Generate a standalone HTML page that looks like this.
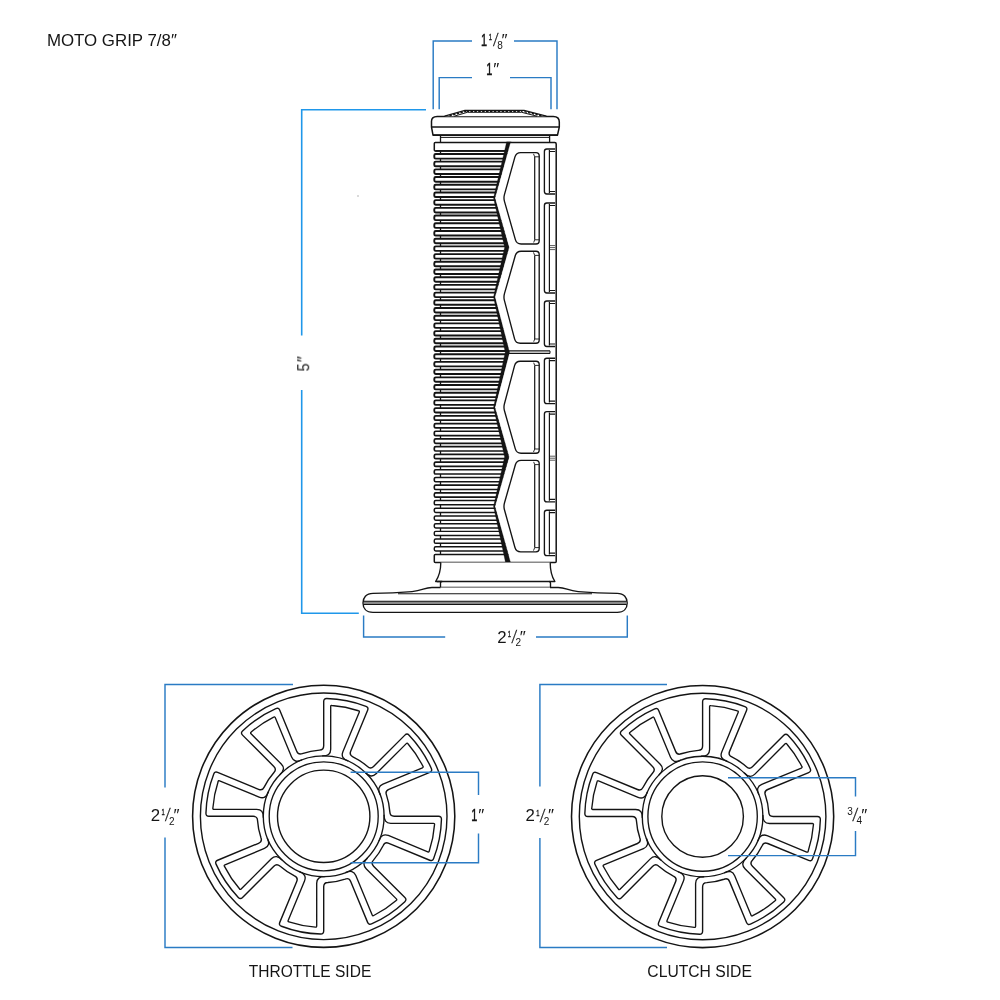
<!DOCTYPE html>
<html lang="en"><head><meta charset="utf-8"><title>MOTO GRIP 7/8</title>
<style>html,body{margin:0;padding:0;background:#fff}svg{display:block}</style></head>
<body>
<svg width="1000" height="1000" viewBox="0 0 1000 1000">
<rect width="1000" height="1000" fill="#fff"/>
<g id="grip" stroke-linecap="butt" stroke-linejoin="round">
<line x1="440.5" y1="150.9" x2="440.5" y2="554.49" stroke="#141414" stroke-width="1.3" />
<rect x="434.3" y="142.4" width="77.69999999999999" height="8.5" rx="1" fill="#fff" stroke="#141414" stroke-width="1.5"/>
<line x1="435.3" y1="150.9" x2="512" y2="150.9" stroke="#141414" stroke-width="1.8" />
<rect x="434.3" y="153.95" width="77.69999999999999" height="4.64" rx="1.4" fill="#fff" stroke="#141414" stroke-width="1.9"/>
<rect x="434.3" y="161.65" width="77.69999999999999" height="4.64" rx="1.4" fill="#fff" stroke="#141414" stroke-width="1.9"/>
<rect x="434.3" y="169.36" width="77.69999999999999" height="4.63" rx="1.4" fill="#fff" stroke="#141414" stroke-width="1.9"/>
<rect x="434.3" y="177.06" width="77.69999999999999" height="4.62" rx="1.4" fill="#fff" stroke="#141414" stroke-width="1.9"/>
<rect x="434.3" y="184.76" width="77.69999999999999" height="4.61" rx="1.4" fill="#fff" stroke="#141414" stroke-width="1.9"/>
<rect x="434.3" y="192.46" width="77.69999999999999" height="4.6" rx="1.4" fill="#fff" stroke="#141414" stroke-width="1.9"/>
<rect x="434.3" y="200.17" width="77.69999999999999" height="4.59" rx="1.4" fill="#fff" stroke="#141414" stroke-width="1.9"/>
<rect x="434.3" y="207.87" width="77.69999999999999" height="4.58" rx="1.4" fill="#fff" stroke="#141414" stroke-width="1.9"/>
<rect x="434.3" y="215.57" width="77.69999999999999" height="4.57" rx="1.4" fill="#fff" stroke="#141414" stroke-width="1.9"/>
<rect x="434.3" y="223.27" width="77.69999999999999" height="4.57" rx="1.4" fill="#fff" stroke="#141414" stroke-width="1.9"/>
<rect x="434.3" y="230.98" width="77.69999999999999" height="4.56" rx="1.4" fill="#fff" stroke="#141414" stroke-width="1.9"/>
<rect x="434.3" y="238.68" width="77.69999999999999" height="4.55" rx="1.4" fill="#fff" stroke="#141414" stroke-width="1.9"/>
<rect x="434.3" y="246.38" width="77.69999999999999" height="4.54" rx="1.4" fill="#fff" stroke="#141414" stroke-width="1.9"/>
<rect x="434.3" y="254.08" width="77.69999999999999" height="4.53" rx="1.4" fill="#fff" stroke="#141414" stroke-width="1.9"/>
<rect x="434.3" y="261.79" width="77.69999999999999" height="4.52" rx="1.4" fill="#fff" stroke="#141414" stroke-width="1.9"/>
<rect x="434.3" y="269.49" width="77.69999999999999" height="4.51" rx="1.4" fill="#fff" stroke="#141414" stroke-width="1.9"/>
<rect x="434.3" y="277.19" width="77.69999999999999" height="4.51" rx="1.4" fill="#fff" stroke="#141414" stroke-width="1.9"/>
<rect x="434.3" y="284.9" width="77.69999999999999" height="4.5" rx="1.4" fill="#fff" stroke="#141414" stroke-width="1.9"/>
<rect x="434.3" y="292.6" width="77.69999999999999" height="4.49" rx="1.4" fill="#fff" stroke="#141414" stroke-width="1.9"/>
<rect x="434.3" y="300.3" width="77.69999999999999" height="4.48" rx="1.4" fill="#fff" stroke="#141414" stroke-width="1.9"/>
<rect x="434.3" y="308" width="77.69999999999999" height="4.47" rx="1.4" fill="#fff" stroke="#141414" stroke-width="1.9"/>
<rect x="434.3" y="315.71" width="77.69999999999999" height="4.46" rx="1.4" fill="#fff" stroke="#141414" stroke-width="1.9"/>
<rect x="434.3" y="323.41" width="77.69999999999999" height="4.45" rx="1.4" fill="#fff" stroke="#141414" stroke-width="1.9"/>
<rect x="434.3" y="331.11" width="77.69999999999999" height="4.44" rx="1.4" fill="#fff" stroke="#141414" stroke-width="1.9"/>
<rect x="434.3" y="338.81" width="77.69999999999999" height="4.44" rx="1.4" fill="#fff" stroke="#141414" stroke-width="1.9"/>
<rect x="434.3" y="346.52" width="77.69999999999999" height="4.43" rx="1.4" fill="#fff" stroke="#141414" stroke-width="1.9"/>
<rect x="434.3" y="354.22" width="77.69999999999999" height="4.42" rx="1.4" fill="#fff" stroke="#141414" stroke-width="1.9"/>
<rect x="434.3" y="361.92" width="77.69999999999999" height="4.41" rx="1.4" fill="#fff" stroke="#141414" stroke-width="1.9"/>
<rect x="434.3" y="369.62" width="77.69999999999999" height="4.4" rx="1.4" fill="#fff" stroke="#141414" stroke-width="1.9"/>
<rect x="434.3" y="377.33" width="77.69999999999999" height="4.39" rx="1.4" fill="#fff" stroke="#141414" stroke-width="1.88"/>
<rect x="434.3" y="385.03" width="77.69999999999999" height="4.38" rx="1.4" fill="#fff" stroke="#141414" stroke-width="1.86"/>
<rect x="434.3" y="392.73" width="77.69999999999999" height="4.38" rx="1.4" fill="#fff" stroke="#141414" stroke-width="1.84"/>
<rect x="434.3" y="400.43" width="77.69999999999999" height="4.37" rx="1.4" fill="#fff" stroke="#141414" stroke-width="1.82"/>
<rect x="434.3" y="408.14" width="77.69999999999999" height="4.36" rx="1.4" fill="#fff" stroke="#141414" stroke-width="1.8"/>
<rect x="434.3" y="415.84" width="77.69999999999999" height="4.35" rx="1.4" fill="#fff" stroke="#141414" stroke-width="1.77"/>
<rect x="434.3" y="423.54" width="77.69999999999999" height="4.34" rx="1.4" fill="#fff" stroke="#141414" stroke-width="1.75"/>
<rect x="434.3" y="431.25" width="77.69999999999999" height="4.33" rx="1.4" fill="#fff" stroke="#141414" stroke-width="1.73"/>
<rect x="434.3" y="438.95" width="77.69999999999999" height="4.32" rx="1.4" fill="#fff" stroke="#141414" stroke-width="1.71"/>
<rect x="434.3" y="446.65" width="77.69999999999999" height="4.32" rx="1.4" fill="#fff" stroke="#141414" stroke-width="1.69"/>
<rect x="434.3" y="454.35" width="77.69999999999999" height="4.31" rx="1.4" fill="#fff" stroke="#141414" stroke-width="1.67"/>
<rect x="434.3" y="462.06" width="77.69999999999999" height="4.3" rx="1.4" fill="#fff" stroke="#141414" stroke-width="1.65"/>
<rect x="434.3" y="469.76" width="77.69999999999999" height="4.29" rx="1.4" fill="#fff" stroke="#141414" stroke-width="1.63"/>
<rect x="434.3" y="477.46" width="77.69999999999999" height="4.28" rx="1.4" fill="#fff" stroke="#141414" stroke-width="1.61"/>
<rect x="434.3" y="485.16" width="77.69999999999999" height="4.27" rx="1.4" fill="#fff" stroke="#141414" stroke-width="1.59"/>
<rect x="434.3" y="492.87" width="77.69999999999999" height="4.26" rx="1.4" fill="#fff" stroke="#141414" stroke-width="1.57"/>
<rect x="434.3" y="500.57" width="77.69999999999999" height="4.25" rx="1.4" fill="#fff" stroke="#141414" stroke-width="1.55"/>
<rect x="434.3" y="508.27" width="77.69999999999999" height="4.25" rx="1.4" fill="#fff" stroke="#141414" stroke-width="1.52"/>
<rect x="434.3" y="515.97" width="77.69999999999999" height="4.24" rx="1.4" fill="#fff" stroke="#141414" stroke-width="1.5"/>
<rect x="434.3" y="523.68" width="77.69999999999999" height="4.23" rx="1.4" fill="#fff" stroke="#141414" stroke-width="1.48"/>
<rect x="434.3" y="531.38" width="77.69999999999999" height="4.22" rx="1.4" fill="#fff" stroke="#141414" stroke-width="1.46"/>
<rect x="434.3" y="539.08" width="77.69999999999999" height="4.21" rx="1.4" fill="#fff" stroke="#141414" stroke-width="1.44"/>
<rect x="434.3" y="546.79" width="77.69999999999999" height="4.2" rx="1.4" fill="#fff" stroke="#141414" stroke-width="1.42"/>
<rect x="434.3" y="554.49" width="77.69999999999999" height="7.91" rx="1" fill="#fff" stroke="#141414" stroke-width="1.5"/>
<polygon points="510.4,142.4 494.9,198 509,247.5 494.9,297 509.5,352.2 494.9,407.4 509,456.9 494.9,506.4 510.5,562.4 556.2,562.4 556.2,142.4" fill="#fff" stroke="none"/>
<polygon points="506.5,142.4 493.5,198 504.6,247.5 493.5,297 505.2,352.2 493.5,407.4 504.6,456.9 493.5,506.4 505.5,562.4 510.5,562.4 494.9,506.4 509,456.9 494.9,407.4 509.5,352.2 494.9,297 509,247.5 494.9,198 510.4,142.4" fill="#141414" stroke="#141414" stroke-width="0.3"/>
<path d="M506.5,142.4 H554.7 Q556.2,142.4 556.2,143.9 V561.4 Q556.2,562.4 555.2,562.4 H505.5" stroke="#141414" stroke-width="1.5" fill="none" />
<line x1="508" y1="350.95" x2="550" y2="350.95" stroke="#141414" stroke-width="1.25" />
<line x1="508" y1="353.45" x2="550" y2="353.45" stroke="#141414" stroke-width="1.25" />
<line x1="550" y1="350.95" x2="550" y2="353.45" stroke="#141414" stroke-width="1.0" />
<path d="M520.66,152.6 L536,152.6 Q539.2,152.6 539.2,155.8 L539.2,240.8 Q539.2,244 536,244 L521.1,244 Q516.6,244 515.37,239.67 L504.46,201.37 Q503.5,198 504.44,194.63 L514.95,156.93 Q516.16,152.6 520.66,152.6 Z" stroke="#141414" stroke-width="1.35" fill="none" />
<path d="M534.7,156.8 L534.7,239.8" stroke="#141414" stroke-width="1.2" fill="none" />
<path d="M534.7,156.8 L539.2,156.8 M534.7,239.8 L539.2,239.8 M534.7,156.8 L533.5,153.8 M534.7,239.8 L533.7,242.5" stroke="#141414" stroke-width="0.9" fill="none" />
<path d="M521.05,251.2 L536,251.2 Q539.2,251.2 539.2,254.4 L539.2,340 Q539.2,343.2 536,343.2 L520.22,343.2 Q515.72,343.2 514.57,338.85 L504.39,300.38 Q503.5,297 504.46,293.63 L515.31,255.53 Q516.55,251.2 521.05,251.2 Z" stroke="#141414" stroke-width="1.35" fill="none" />
<path d="M534.7,255.4 L534.7,339" stroke="#141414" stroke-width="1.2" fill="none" />
<path d="M534.7,255.4 L539.2,255.4 M534.7,339 L539.2,339 M534.7,255.4 L533.5,252.4 M534.7,339 L533.7,341.7" stroke="#141414" stroke-width="0.9" fill="none" />
<path d="M520.66,551.8 L536,551.8 Q539.2,551.8 539.2,548.6 L539.2,463.6 Q539.2,460.4 536,460.4 L521.1,460.4 Q516.6,460.4 515.37,464.73 L504.46,503.03 Q503.5,506.4 504.44,509.77 L514.95,547.47 Q516.16,551.8 520.66,551.8 Z" stroke="#141414" stroke-width="1.35" fill="none" />
<path d="M534.7,547.6 L534.7,464.6" stroke="#141414" stroke-width="1.2" fill="none" />
<path d="M534.7,547.6 L539.2,547.6 M534.7,464.6 L539.2,464.6 M534.7,547.6 L533.5,550.6 M534.7,464.6 L533.7,461.9" stroke="#141414" stroke-width="0.9" fill="none" />
<path d="M521.05,453.2 L536,453.2 Q539.2,453.2 539.2,450 L539.2,364.4 Q539.2,361.2 536,361.2 L520.22,361.2 Q515.72,361.2 514.57,365.55 L504.39,404.02 Q503.5,407.4 504.46,410.77 L515.31,448.87 Q516.55,453.2 521.05,453.2 Z" stroke="#141414" stroke-width="1.35" fill="none" />
<path d="M534.7,449 L534.7,365.4" stroke="#141414" stroke-width="1.2" fill="none" />
<path d="M534.7,449 L539.2,449 M534.7,365.4 L539.2,365.4 M534.7,449 L533.5,452 M534.7,365.4 L533.7,362.7" stroke="#141414" stroke-width="0.9" fill="none" />
<path d="M555.1,149 H546.8 Q544.4,149 544.4,151.4 V191.6 Q544.4,194 546.8,194 H555.1" stroke="#141414" stroke-width="1.35" fill="none" />
<path d="M549.4,150 V193" stroke="#141414" stroke-width="1.2" fill="none" />
<path d="M549.4,151.5 H555.1 M549.4,191.5 H555.1" stroke="#141414" stroke-width="1.2" fill="none" />
<path d="M555.1,203 H546.8 Q544.4,203 544.4,205.4 V290.6 Q544.4,293 546.8,293 H555.1" stroke="#141414" stroke-width="1.35" fill="none" />
<path d="M549.4,204 V292" stroke="#141414" stroke-width="1.2" fill="none" />
<path d="M549.4,205.5 H555.1 M549.4,290.5 H555.1" stroke="#141414" stroke-width="1.2" fill="none" />
<line x1="549.4" y1="245.6" x2="555.1" y2="245.6" stroke="#141414" stroke-width="0.7" />
<line x1="549.4" y1="247.6" x2="555.1" y2="247.6" stroke="#141414" stroke-width="0.7" />
<line x1="549.4" y1="249.6" x2="555.1" y2="249.6" stroke="#141414" stroke-width="0.7" />
<path d="M555.1,301 H546.8 Q544.4,301 544.4,303.4 V344.1 Q544.4,346.5 546.8,346.5 H555.1" stroke="#141414" stroke-width="1.35" fill="none" />
<path d="M549.4,302 V345.5" stroke="#141414" stroke-width="1.2" fill="none" />
<path d="M549.4,303.5 H555.1 M549.4,344 H555.1" stroke="#141414" stroke-width="1.2" fill="none" />
<path d="M555.1,358.2 H546.8 Q544.4,358.2 544.4,360.6 V401.2 Q544.4,403.6 546.8,403.6 H555.1" stroke="#141414" stroke-width="1.35" fill="none" />
<path d="M549.4,359.2 V402.6" stroke="#141414" stroke-width="1.2" fill="none" />
<path d="M549.4,360.7 H555.1 M549.4,401.1 H555.1" stroke="#141414" stroke-width="1.2" fill="none" />
<path d="M555.1,411.6 H546.8 Q544.4,411.6 544.4,414 V499.4 Q544.4,501.8 546.8,501.8 H555.1" stroke="#141414" stroke-width="1.35" fill="none" />
<path d="M549.4,412.6 V500.8" stroke="#141414" stroke-width="1.2" fill="none" />
<path d="M549.4,414.1 H555.1 M549.4,499.3 H555.1" stroke="#141414" stroke-width="1.2" fill="none" />
<line x1="549.4" y1="456.2" x2="555.1" y2="456.2" stroke="#141414" stroke-width="0.7" />
<line x1="549.4" y1="458.2" x2="555.1" y2="458.2" stroke="#141414" stroke-width="0.7" />
<line x1="549.4" y1="460.2" x2="555.1" y2="460.2" stroke="#141414" stroke-width="0.7" />
<path d="M555.1,510.2 H546.8 Q544.4,510.2 544.4,512.6 V553.2 Q544.4,555.6 546.8,555.6 H555.1" stroke="#141414" stroke-width="1.35" fill="none" />
<path d="M549.4,511.2 V554.6" stroke="#141414" stroke-width="1.2" fill="none" />
<path d="M549.4,512.7 H555.1 M549.4,553.1 H555.1" stroke="#141414" stroke-width="1.2" fill="none" />
<path d="M433.0,135.2 L431.5,127 V122 Q431.2,116.5 437.2,116.5 H553.3 Q559.3,116.5 559.3,122 V127 L557.5,135.2 Z" stroke="#141414" stroke-width="1.5" fill="#fff" />
<line x1="431.5" y1="127" x2="559" y2="127" stroke="#141414" stroke-width="1.4" />
<line x1="433" y1="135.2" x2="557.5" y2="135.2" stroke="#141414" stroke-width="1.8" />
<path d="M440.5,135.2 V142.4 M549.6,135.2 V142.4" stroke="#141414" stroke-width="1.3" fill="none" />
<line x1="440.5" y1="137.4" x2="549.6" y2="137.4" stroke="#141414" stroke-width="1.0" />
<path d="M444.6,116.2 L465,110.3 H524 L546.4,116.2" stroke="#141414" stroke-width="1.2" fill="#fff" />
<path d="M454.2,116.2 L467.4,112.3 H521.6 L537,116.2" stroke="#141414" stroke-width="1.0" fill="none" />
<path d="M466.5,111.3 H522.5" stroke="#141414" stroke-width="1.2" fill="none" stroke-dasharray="2.6 1.3"/>
<path d="M449.5,115.8 L466,111.3 M541.5,115.8 L523,111.3" stroke="#141414" stroke-width="1.4" fill="none" stroke-dasharray="2.4 1.4"/>
<path d="M440.8,562.4 C440.8,572 438.5,577 435.6,581.5 H554.9 C552,577 550.2,572 550.2,562.4" stroke="#141414" stroke-width="1.35" fill="#fff" />
<path d="M437,581.5 H442.0 Q440.5,581.5 440.5,583 V587.5 H550.5 V583 Q550.5,581.5 549,581.5" stroke="#141414" stroke-width="1.35" fill="none" />
<path d="M440.5,587.5 H432 C424,587.6 423,590.6 412,591.6 C398,592.8 385,593.3 373,593.4 C366,593.4 363,598 363,603 C363,608 366,612.4 373,612.4 H617.2 C624.2,612.4 627.2,608 627.2,603 C627.2,598 624.2,593.4 617.2,593.4 C605.2,593.3 592.2,592.8 578.2,591.6 C567.2,590.6 566.2,587.6 558.2,587.5 H550" stroke="#141414" stroke-width="1.4" fill="#fff" />
<line x1="398" y1="593.7" x2="592" y2="593.7" stroke="#141414" stroke-width="1.1" />
<rect x="364" y="601.2" width="262.2" height="3.3" fill="#8a8a8a" stroke="none"/>
<line x1="363.6" y1="601.2" x2="626.6" y2="601.2" stroke="#141414" stroke-width="1.1" />
<line x1="363.6" y1="604.5" x2="626.6" y2="604.5" stroke="#141414" stroke-width="1.1" />
</g>
<g id="ends" stroke-linejoin="round">
<circle cx="323.7" cy="816.3" r="131.1" stroke="#141414" stroke-width="1.55" fill="none"/>
<circle cx="323.7" cy="816.3" r="123.3" stroke="#141414" stroke-width="1.4" fill="none"/>
<path d="M383.22,845.5 Q384.95,841.67 388.83,843.28 L429.76,860.23 Q432.53,861.38 433.65,858.59 A117.8,117.8 0 0 0 441.46,819.3 Q441.5,816.3 438.5,816.3 L394.2,816.3 Q390,816.3 389.87,812.1 A66.3,66.3 0 0 0 386.44,794.86 Q384.95,790.93 388.83,789.32 L429.76,772.37 Q432.53,771.22 431.35,768.46 A117.8,117.8 0 0 0 409.09,735.15 Q407,733 404.88,735.12 L373.55,766.45 Q370.58,769.42 367.52,766.54 A66.3,66.3 0 0 0 352.9,756.78 Q349.07,755.05 350.68,751.17 L367.63,710.24 Q368.78,707.47 365.99,706.35 A117.8,117.8 0 0 0 326.7,698.54 Q323.7,698.5 323.7,701.5 L323.7,745.8 Q323.7,750 319.5,750.13 A66.3,66.3 0 0 0 302.26,753.56 Q298.33,755.05 296.72,751.17 L279.77,710.24 Q278.62,707.47 275.86,708.65 A117.8,117.8 0 0 0 242.55,730.91 Q240.4,733 242.52,735.12 L273.85,766.45 Q276.82,769.42 273.94,772.48 A66.3,66.3 0 0 0 264.18,787.1 Q262.45,790.93 258.57,789.32 L217.64,772.37 Q214.87,771.22 213.75,774.01 A117.8,117.8 0 0 0 205.94,813.3 Q205.9,816.3 208.9,816.3 L253.2,816.3 Q257.4,816.3 257.53,820.5 A66.3,66.3 0 0 0 260.96,837.74 Q262.45,841.67 258.57,843.28 L217.64,860.23 Q214.87,861.38 216.05,864.14 A117.8,117.8 0 0 0 238.31,897.45 Q240.4,899.6 242.52,897.48 L273.85,866.15 Q276.82,863.18 279.88,866.06 A66.3,66.3 0 0 0 294.5,875.82 Q298.33,877.55 296.72,881.43 L279.77,922.36 Q278.62,925.13 281.41,926.25 A117.8,117.8 0 0 0 320.7,934.06 Q323.7,934.1 323.7,931.1 L323.7,886.8 Q323.7,882.6 327.9,882.47 A66.3,66.3 0 0 0 345.14,879.04 Q349.07,877.55 350.68,881.43 L367.63,922.36 Q368.78,925.13 371.54,923.95 A117.8,117.8 0 0 0 404.85,901.69 Q407,899.6 404.88,897.48 L373.55,866.15 Q370.58,863.18 373.46,860.12 A66.3,66.3 0 0 0 383.22,845.5 Z" stroke="#141414" stroke-width="1.4" fill="none" />
<path d="M378.88,840.87 Q381.81,832.79 388.31,835.49 L427.8,851.84 Q429,852.34 429.26,851.07 A111.3,111.3 0 0 0 434.53,824.58 Q434.78,823.3 433.48,823.3 L390.74,823.3 Q383.69,823.3 384.08,814.72 M380.09,794.65 Q376.45,786.87 382.95,784.18 L422.44,767.82 Q423.65,767.32 422.92,766.24 A111.3,111.3 0 0 0 407.92,743.79 Q407.19,742.7 406.28,743.62 L376.05,773.85 Q371.07,778.83 365.28,772.49 M348.27,761.12 Q340.19,758.19 342.89,751.69 L359.24,712.2 Q359.74,711 358.47,710.74 A111.3,111.3 0 0 0 331.98,705.47 Q330.7,705.22 330.7,706.52 L330.7,749.26 Q330.7,756.31 322.12,755.92 M302.05,759.91 Q294.27,763.55 291.58,757.05 L275.22,717.56 Q274.72,716.35 273.64,717.08 A111.3,111.3 0 0 0 251.19,732.08 Q250.1,732.81 251.02,733.72 L281.25,763.95 Q286.23,768.93 279.89,774.72 M268.52,791.73 Q265.59,799.81 259.09,797.11 L219.6,780.76 Q218.4,780.26 218.14,781.53 A111.3,111.3 0 0 0 212.87,808.02 Q212.62,809.3 213.92,809.3 L256.66,809.3 Q263.71,809.3 263.32,817.88 M267.31,837.95 Q270.95,845.73 264.45,848.42 L224.96,864.78 Q223.75,865.28 224.48,866.36 A111.3,111.3 0 0 0 239.48,888.81 Q240.21,889.9 241.12,888.98 L271.35,858.75 Q276.33,853.77 282.12,860.11 M299.13,871.48 Q307.21,874.41 304.51,880.91 L288.16,920.4 Q287.66,921.6 288.93,921.86 A111.3,111.3 0 0 0 315.42,927.13 Q316.7,927.38 316.7,926.08 L316.7,883.34 Q316.7,876.29 325.28,876.68 M345.35,872.69 Q353.13,869.05 355.82,875.55 L372.18,915.04 Q372.68,916.25 373.76,915.52 A111.3,111.3 0 0 0 396.21,900.52 Q397.3,899.79 396.38,898.88 L366.15,868.65 Q361.17,863.67 367.51,857.88 " stroke="#141414" stroke-width="1.35" fill="none" />
<circle cx="323.7" cy="816.3" r="60.4" stroke="#141414" stroke-width="1.35" fill="none"/>
<circle cx="323.7" cy="816.3" r="54.5" stroke="#141414" stroke-width="1.35" fill="none"/>
<circle cx="323.7" cy="816.3" r="46.2" stroke="#141414" stroke-width="1.4" fill="none"/>
<circle cx="702.6" cy="816.5" r="131.1" stroke="#141414" stroke-width="1.55" fill="none"/>
<circle cx="702.6" cy="816.5" r="123.3" stroke="#141414" stroke-width="1.4" fill="none"/>
<path d="M762.12,845.7 Q763.85,841.87 767.73,843.48 L808.66,860.43 Q811.43,861.58 812.55,858.79 A117.8,117.8 0 0 0 820.36,819.5 Q820.4,816.5 817.4,816.5 L773.1,816.5 Q768.9,816.5 768.77,812.3 A66.3,66.3 0 0 0 765.34,795.06 Q763.85,791.13 767.73,789.52 L808.66,772.57 Q811.43,771.42 810.25,768.66 A117.8,117.8 0 0 0 787.99,735.35 Q785.9,733.2 783.78,735.32 L752.45,766.65 Q749.48,769.62 746.42,766.74 A66.3,66.3 0 0 0 731.8,756.98 Q727.97,755.25 729.58,751.37 L746.53,710.44 Q747.68,707.67 744.89,706.55 A117.8,117.8 0 0 0 705.6,698.74 Q702.6,698.7 702.6,701.7 L702.6,746 Q702.6,750.2 698.4,750.33 A66.3,66.3 0 0 0 681.16,753.76 Q677.23,755.25 675.62,751.37 L658.67,710.44 Q657.52,707.67 654.76,708.85 A117.8,117.8 0 0 0 621.45,731.11 Q619.3,733.2 621.42,735.32 L652.75,766.65 Q655.72,769.62 652.84,772.68 A66.3,66.3 0 0 0 643.08,787.3 Q641.35,791.13 637.47,789.52 L596.54,772.57 Q593.77,771.42 592.65,774.21 A117.8,117.8 0 0 0 584.84,813.5 Q584.8,816.5 587.8,816.5 L632.1,816.5 Q636.3,816.5 636.43,820.7 A66.3,66.3 0 0 0 639.86,837.94 Q641.35,841.87 637.47,843.48 L596.54,860.43 Q593.77,861.58 594.95,864.34 A117.8,117.8 0 0 0 617.21,897.65 Q619.3,899.8 621.42,897.68 L652.75,866.35 Q655.72,863.38 658.78,866.26 A66.3,66.3 0 0 0 673.4,876.02 Q677.23,877.75 675.62,881.63 L658.67,922.56 Q657.52,925.33 660.31,926.45 A117.8,117.8 0 0 0 699.6,934.26 Q702.6,934.3 702.6,931.3 L702.6,887 Q702.6,882.8 706.8,882.67 A66.3,66.3 0 0 0 724.04,879.24 Q727.97,877.75 729.58,881.63 L746.53,922.56 Q747.68,925.33 750.44,924.15 A117.8,117.8 0 0 0 783.75,901.89 Q785.9,899.8 783.78,897.68 L752.45,866.35 Q749.48,863.38 752.36,860.32 A66.3,66.3 0 0 0 762.12,845.7 Z" stroke="#141414" stroke-width="1.4" fill="none" />
<path d="M757.69,841.03 Q760.61,832.95 767.12,835.65 L806.7,852.04 Q807.9,852.54 808.16,851.27 A111.3,111.3 0 0 0 813.43,824.78 Q813.68,823.5 812.38,823.5 L769.53,823.5 Q762.49,823.5 762.88,814.92 M758.89,794.89 Q755.25,787.11 761.76,784.42 L801.34,768.02 Q802.55,767.52 801.82,766.44 A111.3,111.3 0 0 0 786.82,743.99 Q786.09,742.9 785.18,743.82 L754.88,774.12 Q749.9,779.1 744.11,772.76 M727.13,761.41 Q719.05,758.49 721.75,751.98 L738.14,712.4 Q738.64,711.2 737.37,710.94 A111.3,111.3 0 0 0 710.88,705.67 Q709.6,705.42 709.6,706.72 L709.6,749.57 Q709.6,756.61 701.02,756.22 M680.99,760.21 Q673.21,763.85 670.52,757.34 L654.12,717.76 Q653.62,716.55 652.54,717.28 A111.3,111.3 0 0 0 630.09,732.28 Q629,733.01 629.92,733.92 L660.22,764.22 Q665.2,769.2 658.86,774.99 M647.51,791.97 Q644.59,800.05 638.08,797.35 L598.5,780.96 Q597.3,780.46 597.04,781.73 A111.3,111.3 0 0 0 591.77,808.22 Q591.52,809.5 592.82,809.5 L635.67,809.5 Q642.71,809.5 642.32,818.08 M646.31,838.11 Q649.95,845.89 643.44,848.58 L603.86,864.98 Q602.65,865.48 603.38,866.56 A111.3,111.3 0 0 0 618.38,889.01 Q619.11,890.1 620.02,889.18 L650.32,858.88 Q655.3,853.9 661.09,860.24 M678.07,871.59 Q686.15,874.51 683.45,881.02 L667.06,920.6 Q666.56,921.8 667.83,922.06 A111.3,111.3 0 0 0 694.32,927.33 Q695.6,927.58 695.6,926.28 L695.6,883.43 Q695.6,876.39 704.18,876.78 M724.21,872.79 Q731.99,869.15 734.68,875.66 L751.08,915.24 Q751.58,916.45 752.66,915.72 A111.3,111.3 0 0 0 775.11,900.72 Q776.2,899.99 775.28,899.08 L744.98,868.78 Q740,863.8 746.34,858.01 " stroke="#141414" stroke-width="1.35" fill="none" />
<circle cx="702.6" cy="816.5" r="60.3" stroke="#141414" stroke-width="1.35" fill="none"/>
<circle cx="702.6" cy="816.5" r="54.7" stroke="#141414" stroke-width="1.35" fill="none"/>
<circle cx="702.6" cy="816.5" r="40.8" stroke="#141414" stroke-width="1.4" fill="none"/>
</g>
<g id="dims" fill="none" stroke-linecap="butt">
<polyline points="433.2,109.3 433.2,41 472,41" stroke="#2a7bc4" stroke-width="1.45" fill="none"/>
<polyline points="514,41 557,41 557,109.3" stroke="#2a7bc4" stroke-width="1.45" fill="none"/>
<polyline points="439.2,109.3 439.2,77.6 472,77.6" stroke="#2a7bc4" stroke-width="1.45" fill="none"/>
<polyline points="510,77.6 551,77.6 551,109.3" stroke="#2a7bc4" stroke-width="1.45" fill="none"/>
<polyline points="426,109.8 301.7,109.8 301.7,335.6" stroke="#1f97ea" stroke-width="1.6" fill="none"/>
<polyline points="301.7,390 301.7,613.2 358.8,613.2" stroke="#1f97ea" stroke-width="1.6" fill="none"/>
<polyline points="363.6,615.5 363.6,636.9 445.2,636.9" stroke="#2a7bc4" stroke-width="1.45" fill="none"/>
<polyline points="536,636.9 627.3,636.9 627.3,615.5" stroke="#2a7bc4" stroke-width="1.45" fill="none"/>
<polyline points="293,684.5 165,684.5 165,787.5" stroke="#2a7bc4" stroke-width="1.45" fill="none"/>
<polyline points="165,837.5 165,947.5 292.5,947.5" stroke="#2a7bc4" stroke-width="1.45" fill="none"/>
<polyline points="350.6,772.3 478.5,772.3 478.5,795" stroke="#2a7bc4" stroke-width="1.45" fill="none"/>
<polyline points="478.5,833.5 478.5,862.7 350.6,862.7" stroke="#2a7bc4" stroke-width="1.45" fill="none"/>
<polyline points="667,684.5 539.9,684.5 539.9,786.5" stroke="#2a7bc4" stroke-width="1.45" fill="none"/>
<polyline points="539.9,838 539.9,947.4 667,947.4" stroke="#2a7bc4" stroke-width="1.45" fill="none"/>
<polyline points="728,777.8 855.5,777.8 855.5,796.5" stroke="#2a7bc4" stroke-width="1.45" fill="none"/>
<polyline points="855.5,831 855.5,855.6 728,855.6" stroke="#2a7bc4" stroke-width="1.45" fill="none"/>
</g>
<g id="labels" font-family="Liberation Sans, Arial, sans-serif" style="opacity:0.995">
<text x="46.9" y="46.4" font-size="17" text-anchor="start" fill="#141414" textLength="130" lengthAdjust="spacingAndGlyphs" >MOTO GRIP 7/8″</text>
<text transform="translate(481.05,45.5) scale(0.65,1)" font-size="17.0" fill="#141414" stroke="#141414" stroke-width="0.45">1</text>
<text transform="translate(488.7,40.1) scale(0.62,1)" font-size="9.4" fill="#141414" stroke="#141414" stroke-width="0.35">1</text>
<text x="500" y="49.2" font-size="10.0" text-anchor="middle" fill="#141414" >8</text>
<text transform="translate(495.29,46.1) scale(0.63,1.1)" font-size="17.0" fill="#141414" stroke="#141414" stroke-width="0.4">⁄</text>
<text x="501.39" y="45.5" font-size="17.0" text-anchor="start" fill="#141414" >″</text>
<text transform="translate(486.25,75.2) scale(0.65,1)" font-size="17.0" fill="#141414" stroke="#141414" stroke-width="0.45">1</text>
<text x="493.29" y="75.2" font-size="17.0" text-anchor="start" fill="#141414" >″</text>
<g transform="translate(309.2,370.6) rotate(-90)"><text x="-0.7" y="0" font-size="17.0" fill="#141414" textLength="8" lengthAdjust="spacingAndGlyphs">5</text><text x="8.59" y="0" font-size="17.0" fill="#141414">″</text></g>
<text transform="translate(497.15,642.7) scale(0.99,1)" font-size="17.0" fill="#141414">2</text>
<text transform="translate(507.8,637.3) scale(0.62,1)" font-size="9.4" fill="#141414" stroke="#141414" stroke-width="0.35">1</text>
<text x="518.2" y="646.4" font-size="10.0" text-anchor="middle" fill="#141414" >2</text>
<text transform="translate(513.63,643.3) scale(0.65,1.1)" font-size="17.0" fill="#141414" stroke="#141414" stroke-width="0.4">⁄</text>
<text x="519.69" y="642.7" font-size="17.0" text-anchor="start" fill="#141414" >″</text>
<text transform="translate(150.85,820.8) scale(0.99,1)" font-size="17.0" fill="#141414">2</text>
<text transform="translate(161.5,815.4) scale(0.62,1)" font-size="9.4" fill="#141414" stroke="#141414" stroke-width="0.35">1</text>
<text x="171.9" y="824.5" font-size="10.0" text-anchor="middle" fill="#141414" >2</text>
<text transform="translate(167.33,821.4) scale(0.65,1.1)" font-size="17.0" fill="#141414" stroke="#141414" stroke-width="0.4">⁄</text>
<text x="173.39" y="820.8" font-size="17.0" text-anchor="start" fill="#141414" >″</text>
<text transform="translate(471.35,820.6) scale(0.65,1)" font-size="17.0" fill="#141414" stroke="#141414" stroke-width="0.45">1</text>
<text x="478.29" y="820.6" font-size="17.0" text-anchor="start" fill="#141414" >″</text>
<text transform="translate(525.55,820.9) scale(0.99,1)" font-size="17.0" fill="#141414">2</text>
<text transform="translate(536.2,815.5) scale(0.62,1)" font-size="9.4" fill="#141414" stroke="#141414" stroke-width="0.35">1</text>
<text x="546.6" y="824.6" font-size="10.0" text-anchor="middle" fill="#141414" >2</text>
<text transform="translate(542.03,821.5) scale(0.65,1.1)" font-size="17.0" fill="#141414" stroke="#141414" stroke-width="0.4">⁄</text>
<text x="548.09" y="820.9" font-size="17.0" text-anchor="start" fill="#141414" >″</text>
<text x="850.1" y="815" font-size="10.0" text-anchor="middle" fill="#141414" >3</text>
<text x="859.3" y="824.3" font-size="10.0" text-anchor="middle" fill="#141414" >4</text>
<text transform="translate(854.71,821.2) scale(0.67,1.1)" font-size="17.0" fill="#141414" stroke="#141414" stroke-width="0.4">⁄</text>
<text x="861.29" y="820.6" font-size="17.0" text-anchor="start" fill="#141414" >″</text>
<text x="310" y="977.4" font-size="17.4" text-anchor="middle" fill="#141414" textLength="122.5" lengthAdjust="spacingAndGlyphs" >THROTTLE SIDE</text>
<text x="699.6" y="977.4" font-size="17.4" text-anchor="middle" fill="#141414" textLength="104.5" lengthAdjust="spacingAndGlyphs" >CLUTCH SIDE</text>
</g>
<circle cx="358" cy="196" r="0.7" fill="#999"/>
</svg>
</body></html>
